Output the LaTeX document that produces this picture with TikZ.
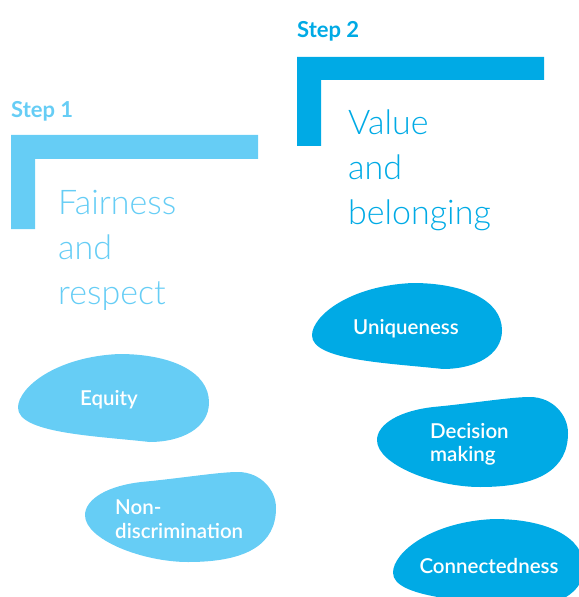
\documentclass[tikz,border=0pt]{standalone}
\usepackage{fontspec}
\setmainfont{Lato}
\newfontfamily\lightfont{Lato Light}
\newfontfamily\semifont{Lato Semibold}
\definecolor{lightblue}{RGB}{102,205,245}
\definecolor{darkblue}{RGB}{0,170,229}
\tikzset{
  blobA/.pic={\fill (0,.61) .. controls (0,.38) and (.2,.03) .. (.53,0)
      .. controls (.8,0) and (1,.2) .. (1,.55)
      .. controls (1,.85) and (.85,1) .. (.69,1)
      .. controls (.4,.93) and (0,.9) .. (0,.61) -- cycle;},
  blobB/.pic={\fill (0,.48) .. controls (0,.3) and (.12,.15) .. (.3,.11)
      .. controls (.5,.07) and (.7,0) .. (.8,0)
      .. controls (.92,0) and (1,.2) .. (1,.4)
      .. controls (1,.8) and (.85,1) .. (.54,1)
      .. controls (.3,1) and (0,.75) .. (0,.48) -- cycle;},
  steplabel/.style={font=\bfseries\fontsize{22bp}{26bp}\selectfont, anchor=base west, inner sep=0},
  titletext/.style={font=\lightfont\fontsize{34bp}{45bp}\selectfont, align=left, anchor=north west, inner sep=0},
  bloblabel/.style={font=\semifont\fontsize{20.5bp}{23.5bp}\selectfont, text=white, inner sep=0}
}
\begin{document}
\begin{tikzpicture}[x=1bp,y=-1bp]
\useasboundingbox (0,0) rectangle (579,597);
\clip (0,0) rectangle (579,597);
% Step 1
\node[steplabel, lightblue] (s1) at (11,118) {Step 1};
\fill[lightblue] (11,135) -- (258,135) -- (258,159) -- (35,159) -- (35,229) -- (11,229) -- cycle;
\node[titletext, lightblue] (t1) at (58,190) {Fairness\\and\\respect};
% Step 2
\node[steplabel, darkblue] (s2) at (297,38) {Step 2};
\fill[darkblue] (297,57) -- (544,57) -- (544,80) -- (321,80) -- (321,146) -- (297,146) -- cycle;
\node[titletext, darkblue] (t2) at (348,110) {Value\\and\\belonging};
% blobs
\pic[color=lightblue, xscale=191, yscale=88] at (18,354) {blobA};
\pic[color=lightblue, xscale=191, yscale=90] at (85,472) {blobB};
\pic[color=darkblue, xscale=190, yscale=86] at (312,283) {blobA};
\pic[color=darkblue, xscale=191, yscale=90] at (377,397) {blobB};
\pic[color=darkblue, xscale=191, yscale=88] at (393,519) {blobA};
% labels
\node[bloblabel, anchor=base] (equity) at (109,405) {Equity};
\node[bloblabel, anchor=north west, align=left] (nondisc) at (115,500) {Non-\\discrimination};
\node[bloblabel, anchor=base] (uniq) at (406,334) {Uniqueness};
\node[bloblabel, anchor=north west, align=left] (dec) at (430,423) {Decision\\making};
\node[bloblabel, anchor=base] (conn) at (489,573) {Connectedness};
\end{tikzpicture}
\end{document}
